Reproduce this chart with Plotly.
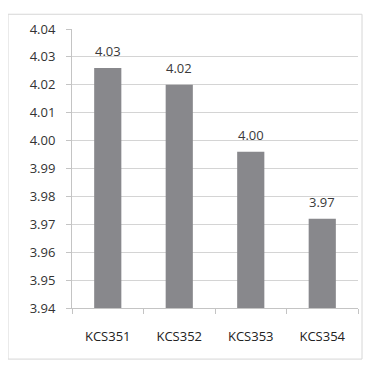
import plotly.graph_objects as go

categories = ["KCS351", "KCS352", "KCS353", "KCS354"]
values = [4.026, 4.020, 3.996, 3.972]
y_ticks = [3.94, 3.95, 3.96, 3.97, 3.98, 3.99, 4.00, 4.01, 4.02, 4.03, 4.04]

fig = go.Figure(go.Bar(
    x=categories, y=values,
    marker=dict(color="#88888c", line=dict(width=0)),
    width=0.38,
))
for c, v in zip(categories, values):
    fig.add_annotation(x=c, y=v, text=f"{v:.2f}", showarrow=False,
                       yanchor="bottom", yshift=6,
                       font=dict(size=13, color="#3a3a3a"))

# page body has 8px default margin; figure origin sits at (8, 8)
W, H = 363, 357
PW, PH = 286, 284
fig.update_layout(
    width=W, height=H,
    margin=dict(l=64, r=13, t=16, b=57),
    paper_bgcolor="white", plot_bgcolor="white",
    font=dict(family="Open Sans", size=13, color="#333333"),
    showlegend=False,
    shapes=[dict(type="rect", xref="paper", yref="paper",
                 x0=-64/PW, x1=1 + 4/PW, y0=-52/PH, y1=1 + 15/PH,
                 line=dict(color="#d6d6d6", width=1))],
)
fig.update_yaxes(
    range=[3.94, 4.04], tickvals=y_ticks, tickformat=".2f",
    showgrid=True, gridcolor="#d4d4d4", gridwidth=1,
    showline=True, linecolor="#c4c4c4",
    ticks="outside", ticklen=5, tickcolor="#c4c4c4",
    ticklabelstandoff=8,
    zeroline=False, tickfont=dict(size=13, color="#333333"),
)
fig.update_xaxes(
    showline=True, linecolor="#c4c4c4",
    ticks="outside", tickson="boundaries", ticklen=5, tickcolor="#c4c4c4",
    ticklabelstandoff=16,
    tickfont=dict(size=13, color="#222222"),
)

fig.write_html("out.html")
